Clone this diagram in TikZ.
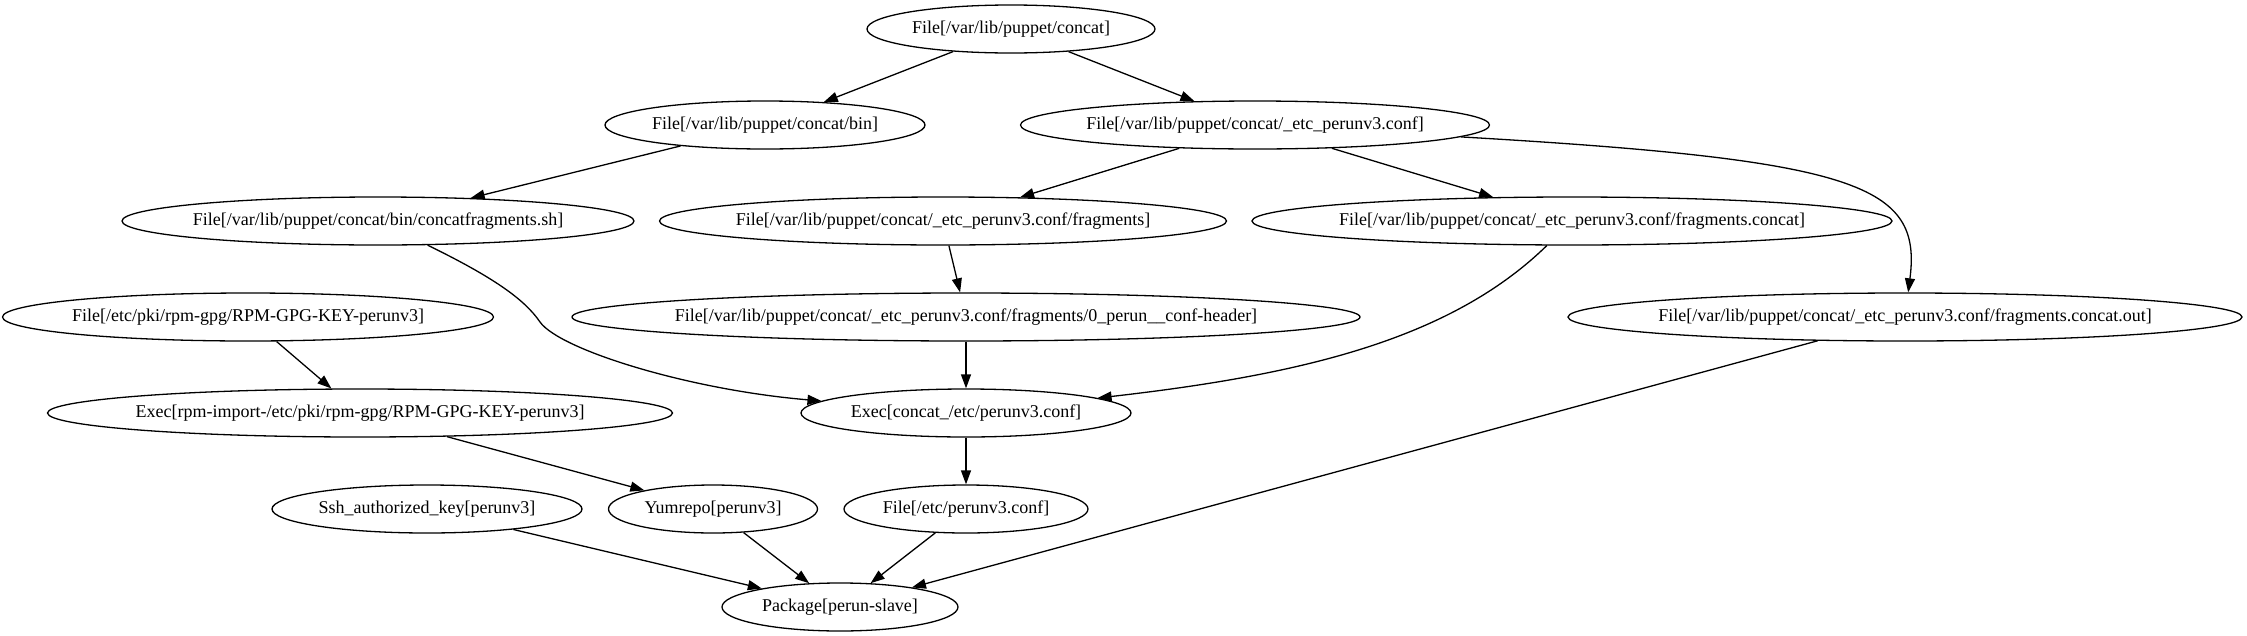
\documentclass[tikz,border=0pt]{standalone}
\usepackage{fontspec}
\setmainfont{Liberation Serif}
\usetikzlibrary{shapes.geometric,arrows.meta}
\newcommand\reslbl[1]{\makebox[0pt]{#1}}
\tikzset{
  res/.style={ellipse, draw, line width=1.3pt, inner sep=0pt,
    minimum width=#1, minimum height=48pt, font=\fontsize{18}{20}\selectfont},
  arr/.style={line width=1.3pt, -{Triangle[length=14pt,width=10pt]}}
}
\begin{document}
\begin{tikzpicture}[x=1pt,y=-1pt]
\path[use as bounding box] (0,0) rectangle (2247,635);
% nodes
\node[res=288pt] (concat) at (1011,29) {\reslbl{File[/var/lib/puppet/concat]}};
\node[res=320pt] (bin) at (765,125) {\reslbl{File[/var/lib/puppet/concat/bin]}};
\node[res=469pt] (etc) at (1255,125) {\reslbl{File[/var/lib/puppet/concat/\_etc\_perunv3.conf]}};
\node[res=512pt] (sh) at (378,221) {\reslbl{File[/var/lib/puppet/concat/bin/concatfragments.sh]}};
\node[res=567pt] (frag) at (943,221) {\reslbl{File[/var/lib/puppet/concat/\_etc\_perunv3.conf/fragments]}};
\node[res=640pt] (fc) at (1572,221) {\reslbl{File[/var/lib/puppet/concat/\_etc\_perunv3.conf/fragments.concat]}};
\node[res=491pt] (rpm) at (248,317) {\reslbl{File[/etc/pki/rpm-gpg/RPM-GPG-KEY-perunv3]}};
\node[res=788pt] (hdr) at (966,317) {\reslbl{File[/var/lib/puppet/concat/\_etc\_perunv3.conf/fragments/0\_perun\_\_conf-header]}};
\node[res=674pt] (out) at (1905,317) {\reslbl{File[/var/lib/puppet/concat/\_etc\_perunv3.conf/fragments.concat.out]}};
\node[res=625pt] (erpm) at (360,413) {\reslbl{Exec[rpm-import-/etc/pki/rpm-gpg/RPM-GPG-KEY-perunv3]}};
\node[res=330pt] (exec) at (966,413) {\reslbl{Exec[concat\_/etc/perunv3.conf]}};
\node[res=310pt] (ssh) at (427,509) {\reslbl{Ssh\_authorized\_key[perunv3]}};
\node[res=209pt] (yum) at (713,509) {\reslbl{Yumrepo[perunv3]}};
\node[res=244pt] (fetc) at (966,509) {\reslbl{File[/etc/perunv3.conf]}};
\node[res=236pt] (pkg) at (840,607) {\reslbl{Package[perun-slave]}};
% edges
\draw[arr] (concat) -- (bin);
\draw[arr] (concat) -- (etc);
\draw[arr] (bin) -- (sh);
\draw[arr] (etc) -- (frag);
\draw[arr] (etc) -- (fc);
\draw[arr] (etc) .. controls (1860,160) and (1922,185) .. (out);
\draw[arr] (sh) .. controls (495,278) and (525,300) .. (540,322) .. controls (560,350) and (690,390) .. (exec);
\draw[arr] (frag) -- (hdr);
\draw[arr] (hdr) -- (exec);
\draw[arr] (fc) .. controls (1450,340) and (1300,375) .. (exec);
\draw[arr] (rpm) -- (erpm);
\draw[arr] (erpm) -- (yum);
\draw[arr] (exec) -- (fetc);
\draw[arr] (out) -- (pkg);
\draw[arr] (ssh) -- (pkg);
\draw[arr] (yum) -- (pkg);
\draw[arr] (fetc) -- (pkg);
\end{tikzpicture}
\end{document}
